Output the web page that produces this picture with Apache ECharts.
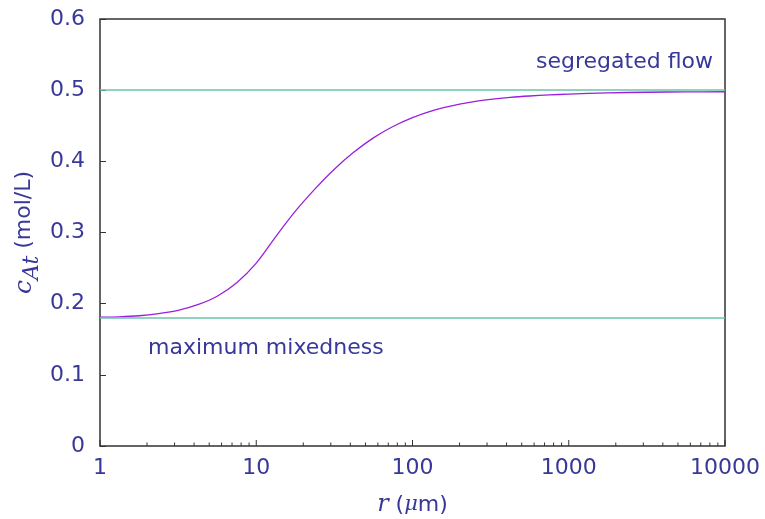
<!DOCTYPE html>
<html>
<head>
<meta charset="utf-8">
<script src="https://cdn.jsdelivr.net/npm/echarts@6/dist/echarts.min.js"></script>
<style>
  html, body { margin: 0; padding: 0; background: #fff; }
  #chart { width: 765px; height: 519px; }
</style>
</head>
<body>
<div id="chart"></div>
<script>
// Radius of fluid aggregates (micrometres) and the outlet concentration c_At (mol/L)
const radius = [1, 1.33, 1.78, 2.37, 3.16, 4.22, 5.62, 7.5, 10, 13.3, 17.8, 23.7, 31.6, 42.2, 56.2, 75, 100, 133, 178, 237, 316, 422, 562, 750, 1000, 1778, 3162, 5623, 10000];
const concentration = [0.181, 0.1815, 0.183, 0.186, 0.1905, 0.1985, 0.2105, 0.2295, 0.257, 0.294, 0.330, 0.361, 0.389, 0.413, 0.433, 0.449, 0.4615, 0.471, 0.478, 0.4832, 0.487, 0.4898, 0.4918, 0.4933, 0.4944, 0.4962, 0.4971, 0.4976, 0.4978];

// Limiting cases
const segregatedFlow = 0.5;
const maximumMixedness = 0.18;

// Axis ticks
const xMajorTicks = [1, 10, 100, 1000, 10000];
const xMinorTicks = [];
for (const decade of [1, 10, 100, 1000]) {
  for (const m of [2, 3, 4, 5, 6, 7, 8, 9]) xMinorTicks.push(m * decade);
}

const textColor = '#38389a';
const frameColor = '#333333';
const curveColor = '#9b1ee0';
const limitColor = '#6cc6a8';
const font = 'DejaVu Sans';
const fontSize = 22;

const chart = echarts.init(document.getElementById('chart'), null, { renderer: 'canvas' });

// Inward tick marks on the bottom (log) axis
function tickSeries(values, len) {
  return {
    type: 'custom',
    silent: true,
    z: 5,
    clip: false,
    data: values.map(v => [v, 0]),
    renderItem: function (params, api) {
      const p = api.coord([api.value(0), api.value(1)]);
      return {
        type: 'line',
        shape: { x1: p[0], y1: p[1], x2: p[0], y2: p[1] - len },
        style: { stroke: frameColor, lineWidth: 1 }
      };
    }
  };
}

chart.setOption({
  animation: false,
  backgroundColor: '#ffffff',
  grid: {
    left: 100, right: 40, top: 19, bottom: 73,
    containLabel: false, outerBoundsMode: 'none',
    show: true, borderColor: frameColor, borderWidth: 1.5
  },
  xAxis: {
    type: 'log',
    logBase: 10,
    min: 1,
    max: 10000,
    name: '{it|r} ({itm|μ}m)',
    nameLocation: 'middle',
    nameMoveOverlap: false,
    nameGap: 47,
    nameTextStyle: {
      color: textColor, fontFamily: font, fontSize: fontSize,
      rich: {
        it: { fontFamily: 'DejaVu Serif', fontStyle: 'italic', fontSize: 24, color: textColor },
        itm: { fontFamily: 'DejaVu Serif', fontStyle: 'italic', fontSize: 21, color: textColor }
      }
    },
    axisLine: { show: false },
    axisTick: { show: false },
    splitLine: { show: false },
    axisLabel: {
      color: textColor, fontFamily: font, fontSize: fontSize, margin: 11,
      formatter: v => String(Math.round(v))
    }
  },
  yAxis: {
    type: 'value',
    min: 0,
    max: 0.6,
    interval: 0.1,
    name: '{it|c}{sub|At} (mol/L)',
    nameLocation: 'middle',
    nameRotate: 90,
    nameMoveOverlap: false,
    nameGap: 57,
    nameTextStyle: {
      color: textColor, fontFamily: font, fontSize: fontSize,
      rich: {
        it: { fontFamily: 'DejaVu Serif', fontStyle: 'italic', fontSize: 25, color: textColor },
        sub: { fontFamily: 'DejaVu Serif', fontStyle: 'italic', fontSize: 22, color: textColor, padding: [16, 0, 0, 0] }
      }
    },
    axisLine: { show: false },
    axisTick: { show: true, inside: true, length: 6, lineStyle: { color: frameColor, width: 1 } },
    splitLine: { show: false },
    axisLabel: {
      color: textColor, fontFamily: font, fontSize: fontSize, margin: 15,
      formatter: v => (v === 0 ? '0' : v.toFixed(1))
    }
  },
  series: [
    {
      type: 'line',
      data: radius.map((r, i) => [r, concentration[i]]),
      showSymbol: false,
      smooth: 0.3,
      lineStyle: { color: curveColor, width: 1.3 },
      z: 3,
      markLine: {
        silent: true,
        symbol: 'none',
        lineStyle: { color: limitColor, width: 1.5, type: 'solid' },
        data: [
          {
            yAxis: segregatedFlow,
            label: {
              show: true, position: 'insideEndTop', formatter: 'segregated flow',
              color: textColor, fontFamily: font, fontSize: fontSize, distance: [12, 17]
            }
          },
          {
            yAxis: maximumMixedness,
            label: {
              show: true, position: 'insideStartBottom', formatter: 'maximum mixedness',
              color: textColor, fontFamily: font, fontSize: fontSize, distance: [48, 19]
            }
          }
        ]
      }
    },
    tickSeries(xMajorTicks, 6),
    tickSeries(xMinorTicks, 3.5)
  ]
});
</script>
</body>
</html>
